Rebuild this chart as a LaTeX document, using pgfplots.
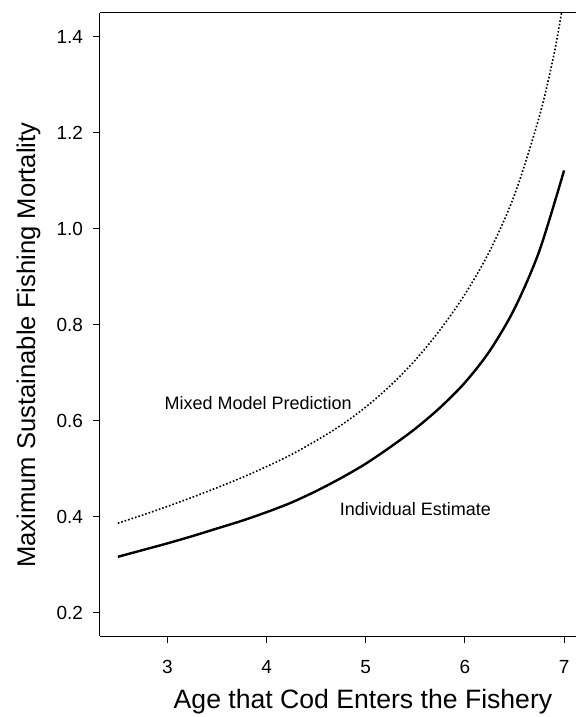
\documentclass[border=0pt]{standalone}
\usepackage{pgfplots}
\pgfplotsset{compat=1.18}
\usepackage{fontspec}
\setmainfont{Liberation Sans}

% values
\pgfplotstableread{
age   F
2.5   0.317
2.75  0.331
3.0   0.345
3.25  0.360
3.5   0.376
3.75  0.392
4.0   0.410
4.25  0.430
4.5   0.454
4.75  0.481
5.0   0.511
5.25  0.546
5.5   0.584
5.75  0.628
6.0   0.680
6.25  0.746
6.5   0.834
6.75  0.954
7.0   1.122
}\individual

\pgfplotstableread{
age   F
2.5   0.387
2.75  0.404
3.0   0.422
3.25  0.441
3.5   0.461
3.75  0.482
4.0   0.505
4.25  0.530
4.5   0.559
4.75  0.591
5.0   0.629
5.25  0.674
5.5   0.727
5.75  0.790
6.0   0.864
6.25  0.954
6.5   1.071
6.75  1.234
6.9   1.366
7.0   1.481
}\mixed

\begin{document}
\begin{tikzpicture}
\begin{axis}[
    scale only axis,
    width=238pt,
    height=311.5pt,
    xmin=2.32, xmax=7.12,
    ymin=0.152, ymax=1.45,
    axis lines=left,
    axis line style={-, line width=0.5pt},
    tick align=outside,
    major tick length=3.5pt,
    tick style={line width=0.5pt, black},
    xtick={3,4,5,6,7},
    ytick={0.2,0.4,0.6,0.8,1.0,1.2,1.4},
    yticklabel style={xshift=-1.5pt, /pgf/number format/.cd, fixed, fixed zerofill, precision=1},
    /pgf/number format/assume math mode=true,
    ticklabel style={font=\fontsize{9.5}{11}\selectfont},
    xticklabel style={yshift=-5pt},
    xlabel={Age that Cod Enters the Fishery},
    ylabel={Maximum Sustainable Fishing Mortality},
    xlabel style={font=\fontsize{13.3}{15}\selectfont, at={(axis description cs:0.5525,-0.106)}, anchor=center},
    ylabel style={font=\fontsize{12.8}{15}\selectfont, at={(axis description cs:-0.15,0.467)}, anchor=center, rotate=0},
]
\addplot[black, line width=1.2pt, smooth] table[x=age, y=F] {\individual};
\addplot[black, line width=0.8pt, densely dotted, smooth] table[x=age, y=F] {\mixed};
\node[font=\fontsize{9}{10}\selectfont] at (axis cs:3.915,0.6375) {Mixed Model Prediction};
\node[font=\fontsize{9}{10}\selectfont] at (axis cs:5.50,0.4167) {Individual Estimate};
\coordinate (ll) at (rel axis cs:0,0);
\coordinate (ur) at (rel axis cs:1,1);
\draw[line width=0.5pt] (rel axis cs:0,1) -- (rel axis cs:1,1);
\end{axis}
\pgfresetboundingbox
\path ([shift={(-50pt,-40.5pt)}]ll) rectangle ([shift={(0pt,6.5pt)}]ur);
\end{tikzpicture}
\end{document}
